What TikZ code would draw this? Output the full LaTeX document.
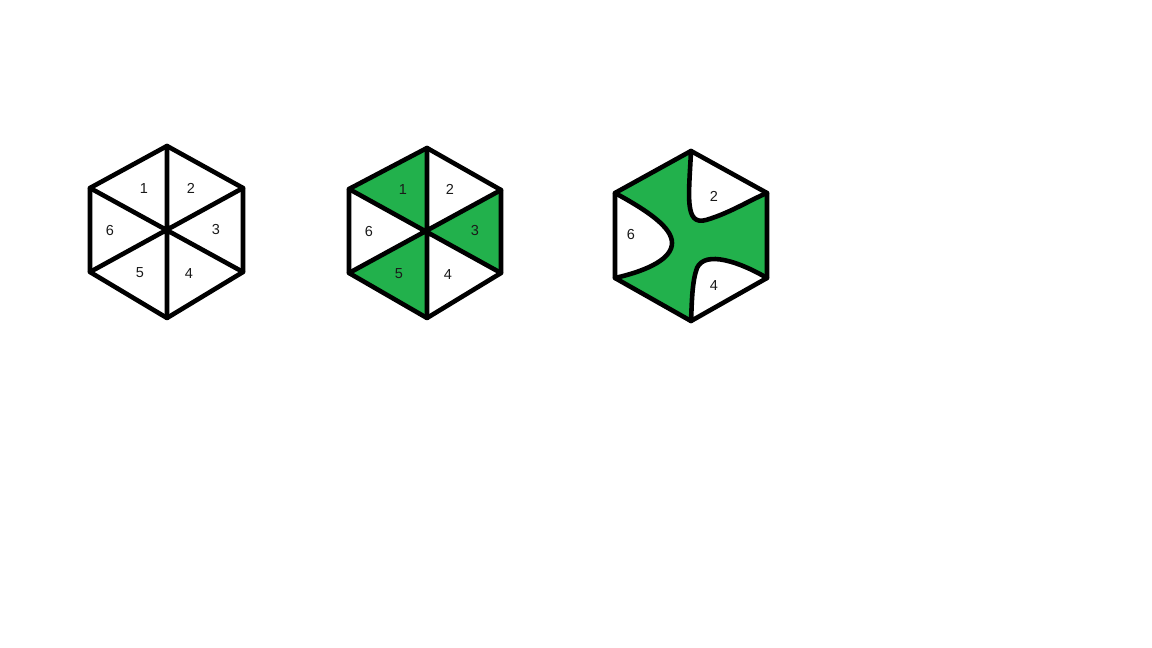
\documentclass[tikz,border=0pt]{standalone}
\usepackage{fontspec}
\setmainfont{Liberation Sans}
\definecolor{pgreen}{HTML}{22B14C}
\definecolor{labc}{HTML}{1A1A1A}
\begin{document}
\begin{tikzpicture}[x=1pt,y=-1pt,
  edge/.style={line width=4.6pt,line join=round,line cap=round},
  lab/.style={font=\fontsize{14.5}{14.5}\selectfont,text=labc,inner sep=0pt}]
\useasboundingbox (0,0) rectangle (1152,648);
\fill[white] (0,0) rectangle (1152,648);
% ---------- hexagon 1 ----------
\coordinate (aT) at (167,146);
\coordinate (aUR) at (243,188);
\coordinate (aLR) at (243,272);
\coordinate (aB) at (167,318);
\coordinate (aLL) at (90,272);
\coordinate (aUL) at (90,188);
\coordinate (aC) at (167,231);
\draw[edge] (aT)--(aUR)--(aLR)--(aB)--(aLL)--(aUL)--cycle;
\draw[edge] (aT)--(aB) (aUL)--(aLR) (aUR)--(aLL);
\node[lab] (a1) at (144,189) {1};
\node[lab] (a2) at (191,188) {2};
\node[lab] (a3) at (216,230) {3};
\node[lab] (a6) at (110,231) {6};
\node[lab] (a5) at (140,273) {5};
\node[lab] (a4) at (189,274) {4};
% ---------- hexagon 2 ----------
\coordinate (bT) at (427,148);
\coordinate (bUR) at (501,190);
\coordinate (bLR) at (501,273);
\coordinate (bB) at (427,318);
\coordinate (bLL) at (349,273);
\coordinate (bUL) at (349,189);
\coordinate (bC) at (427,232);
\fill[pgreen] (bC)--(bUL)--(bT)--cycle;
\fill[pgreen] (bC)--(bUR)--(bLR)--cycle;
\fill[pgreen] (bC)--(bLL)--(bB)--cycle;
\draw[edge] (bT)--(bUR)--(bLR)--(bB)--(bLL)--(bUL)--cycle;
\draw[edge] (bT)--(bB) (bUL)--(bLR) (bUR)--(bLL);
\node[lab] (b1) at (403,190) {1};
\node[lab] (b2) at (450,189) {2};
\node[lab] (b3) at (475,231) {3};
\node[lab] (b6) at (369,232) {6};
\node[lab] (b5) at (399,274) {5};
\node[lab] (b4) at (448,275) {4};
% ---------- hexagon 3 ----------
\coordinate (cT) at (691,151);
\coordinate (cUR) at (767,193);
\coordinate (cLR) at (767,278);
\coordinate (cB) at (691,321);
\coordinate (cLL) at (615,278);
\coordinate (cUL) at (615,193);
\fill[pgreen] (cT)--(cUR)--(cLR)--(cB)--(cLL)--(cUL)--cycle;
\fill[white] (cT) .. controls (689,195) and (684,226) .. (706,220)
  .. controls (730,213) and (750,200) .. (cUR) -- cycle;
\fill[white] (cUL) .. controls (650,212) and (672,228) .. (672,243)
  .. controls (672,258) and (650,270) .. (cLL) -- cycle;
\fill[white] (cLR) .. controls (740,262) and (705,250) .. (697,268)
  .. controls (692,282) and (692,300) .. (cB) -- cycle;
\draw[edge] (cT) .. controls (689,195) and (684,226) .. (706,220)
  .. controls (730,213) and (750,200) .. (cUR);
\draw[edge] (cUL) .. controls (650,212) and (672,228) .. (672,243)
  .. controls (672,258) and (650,270) .. (cLL);
\draw[edge] (cLR) .. controls (740,262) and (705,250) .. (697,268)
  .. controls (692,282) and (692,300) .. (cB);
\draw[edge] (cT)--(cUR)--(cLR)--(cB)--(cLL)--(cUL)--cycle;
\node[lab] (c2) at (714,196) {2};
\node[lab] (c6) at (631,235) {6};
\node[lab] (c4) at (714,286) {4};
\end{tikzpicture}
\end{document}
